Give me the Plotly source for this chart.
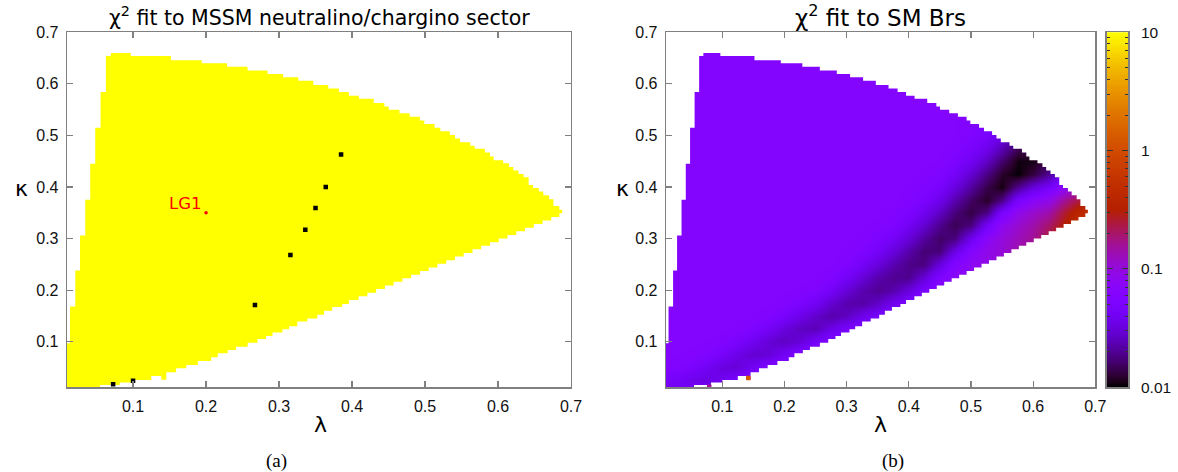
import math
import numpy as np
import plotly.graph_objects as go

# ---------------- data ----------------
# allowed-region boundary (same region in both panels), piecewise constant steps
upper_lam = [0.0095, 0.0136, 0.0209, 0.0273, 0.0345, 0.0413, 0.0482, 0.0555, 0.0628, 0.0696,
             0.0969, 0.1518, 0.1941, 0.2288, 0.2569, 0.2842, 0.3056, 0.3265, 0.3470, 0.3674,
             0.3820, 0.3956, 0.4093, 0.4297, 0.4443, 0.4502, 0.4650, 0.4790, 0.4930, 0.4990,
             0.5130, 0.5210, 0.5340, 0.5410, 0.5480, 0.5620, 0.5680, 0.5820, 0.5890, 0.5940,
             0.6070, 0.6150, 0.6210, 0.6280, 0.6350, 0.6420, 0.6480, 0.6560, 0.6620, 0.6700,
             0.6760, 0.6840]
upper_kap = [0.097, 0.168, 0.238, 0.306, 0.375, 0.445, 0.515, 0.584, 0.654, 0.660,
             0.654, 0.646, 0.640, 0.633, 0.626, 0.619, 0.613, 0.606, 0.598, 0.591,
             0.584, 0.577, 0.571, 0.563, 0.556, 0.550, 0.543, 0.536, 0.529, 0.522,
             0.515, 0.508, 0.501, 0.494, 0.487, 0.480, 0.474, 0.467, 0.459, 0.452,
             0.446, 0.439, 0.432, 0.425, 0.419, 0.404, 0.398, 0.391, 0.384, 0.376,
             0.363, 0.356]
lower_lam = [0.0095, 0.0546, 0.0818, 0.1000, 0.1250, 0.1387, 0.1455, 0.1590, 0.1730, 0.1887,
             0.2070, 0.2160, 0.2296, 0.2410, 0.2570, 0.2705, 0.2820, 0.2910, 0.3046, 0.3138,
             0.3250, 0.3387, 0.3524, 0.3615, 0.3729, 0.3865, 0.3956, 0.4090, 0.4210, 0.4330,
             0.4450, 0.4570, 0.4690, 0.4810, 0.4930, 0.5050, 0.5170, 0.5290, 0.5410, 0.5530,
             0.5650, 0.5770, 0.5890, 0.6010, 0.6130, 0.6250, 0.6370, 0.6490, 0.6610, 0.6730,
             0.6840]
lower_kap = [0.000, 0.016, 0.0206, 0.0258, 0.0335, 0.026, 0.0407, 0.0484, 0.0549, 0.0626,
             0.0698, 0.0775, 0.084, 0.090, 0.098, 0.105, 0.111, 0.118, 0.124, 0.130,
             0.139, 0.145, 0.152, 0.160, 0.167, 0.173, 0.181, 0.188, 0.195, 0.202,
             0.209, 0.216, 0.223, 0.230, 0.237, 0.244, 0.251, 0.258, 0.265, 0.272,
             0.279, 0.286, 0.293, 0.300, 0.307, 0.314, 0.321, 0.328, 0.335, 0.342,
             0.349]
region_end = 0.688

# panel (a): special points with small chi^2 and benchmark LG1
black_lam = [0.0727, 0.100, 0.267, 0.3156, 0.336, 0.350, 0.364, 0.385]
black_kap = [0.0175, 0.0244, 0.171, 0.268, 0.317, 0.359, 0.400, 0.463]
lg1_lam = [0.200]
lg1_kap = [0.350]

# panel (b): log10(chi^2) read on a grid; one list per lambda column, values along kappa
grid_lam = [0.000, 0.025, 0.050, 0.075, 0.100, 0.125, 0.150, 0.175, 0.200, 0.225,
            0.250, 0.275, 0.300, 0.325, 0.350, 0.375, 0.400, 0.425, 0.450, 0.475,
            0.500, 0.525, 0.550, 0.575, 0.600, 0.625, 0.650, 0.675, 0.690]
grid_kap = [0.000, 0.025, 0.050, 0.075, 0.100, 0.125, 0.150, 0.175, 0.200, 0.225,
            0.250, 0.275, 0.300, 0.325, 0.350, 0.375, 0.400, 0.425, 0.450, 0.475,
            0.500, 0.660, 0.675]
log_chi2_by_lam = [
    [-1.40,-1.32,-1.23,-1.20,-1.20,-1.20,-1.20,-1.20,-1.20,-1.20,-1.20,-1.20,-1.20,-1.20,-1.20,-1.20,-1.20,-1.20,-1.20,-1.20,-1.20,-1.20,-1.20],
    [-1.40,-1.37,-1.25,-1.21,-1.20,-1.20,-1.20,-1.20,-1.20,-1.20,-1.20,-1.20,-1.20,-1.20,-1.20,-1.20,-1.20,-1.20,-1.20,-1.20,-1.20,-1.20,-1.20],
    [-1.35,-1.43,-1.30,-1.22,-1.20,-1.20,-1.20,-1.20,-1.20,-1.20,-1.20,-1.20,-1.20,-1.20,-1.20,-1.20,-1.20,-1.20,-1.20,-1.20,-1.20,-1.20,-1.20],
    [-1.27,-1.47,-1.39,-1.26,-1.21,-1.20,-1.20,-1.20,-1.20,-1.20,-1.20,-1.20,-1.20,-1.20,-1.20,-1.20,-1.20,-1.20,-1.20,-1.20,-1.20,-1.20,-1.20],
    [-1.22,-1.40,-1.49,-1.34,-1.24,-1.20,-1.20,-1.20,-1.20,-1.20,-1.20,-1.20,-1.20,-1.20,-1.20,-1.20,-1.20,-1.20,-1.20,-1.20,-1.20,-1.20,-1.20],
    [-1.20,-1.28,-1.51,-1.46,-1.31,-1.22,-1.20,-1.20,-1.20,-1.20,-1.20,-1.20,-1.20,-1.20,-1.20,-1.20,-1.20,-1.20,-1.20,-1.20,-1.20,-1.20,-1.20],
    [-1.20,-1.21,-1.38,-1.54,-1.41,-1.27,-1.21,-1.20,-1.20,-1.20,-1.20,-1.20,-1.20,-1.20,-1.20,-1.20,-1.20,-1.20,-1.20,-1.20,-1.20,-1.20,-1.20],
    [-1.20,-1.20,-1.26,-1.51,-1.52,-1.37,-1.25,-1.21,-1.20,-1.20,-1.20,-1.20,-1.20,-1.20,-1.20,-1.20,-1.20,-1.20,-1.20,-1.20,-1.20,-1.20,-1.20],
    [-1.20,-1.20,-1.22,-1.37,-1.58,-1.49,-1.33,-1.23,-1.20,-1.20,-1.20,-1.20,-1.20,-1.20,-1.20,-1.20,-1.20,-1.20,-1.20,-1.20,-1.20,-1.20,-1.20],
    [-1.20,-1.20,-1.20,-1.26,-1.51,-1.58,-1.45,-1.30,-1.22,-1.20,-1.20,-1.20,-1.20,-1.20,-1.20,-1.20,-1.20,-1.20,-1.20,-1.20,-1.20,-1.20,-1.20],
    [-1.20,-1.20,-1.20,-1.21,-1.35,-1.61,-1.56,-1.39,-1.26,-1.21,-1.20,-1.20,-1.20,-1.20,-1.20,-1.20,-1.20,-1.20,-1.20,-1.20,-1.20,-1.20,-1.20],
    [-1.20,-1.20,-1.20,-1.20,-1.24,-1.46,-1.64,-1.54,-1.37,-1.25,-1.21,-1.20,-1.20,-1.20,-1.20,-1.20,-1.20,-1.20,-1.20,-1.20,-1.20,-1.20,-1.20],
    [-1.20,-1.20,-1.20,-1.20,-1.22,-1.33,-1.58,-1.64,-1.52,-1.37,-1.26,-1.22,-1.20,-1.20,-1.20,-1.20,-1.20,-1.20,-1.20,-1.20,-1.20,-1.20,-1.20],
    [-1.20,-1.20,-1.20,-1.20,-1.20,-1.26,-1.44,-1.66,-1.63,-1.51,-1.36,-1.27,-1.22,-1.20,-1.20,-1.20,-1.20,-1.20,-1.20,-1.20,-1.20,-1.20,-1.20],
    [-1.20,-1.20,-1.20,-1.20,-1.20,-1.22,-1.33,-1.56,-1.70,-1.64,-1.50,-1.36,-1.27,-1.23,-1.20,-1.20,-1.20,-1.20,-1.20,-1.20,-1.20,-1.20,-1.20],
    [-1.20,-1.20,-1.20,-1.20,-1.20,-1.20,-1.25,-1.41,-1.65,-1.71,-1.63,-1.50,-1.37,-1.27,-1.23,-1.20,-1.20,-1.20,-1.20,-1.20,-1.20,-1.20,-1.20],
    [-1.20,-1.20,-1.20,-1.20,-1.20,-1.20,-1.22,-1.29,-1.49,-1.71,-1.73,-1.65,-1.51,-1.39,-1.29,-1.24,-1.22,-1.20,-1.20,-1.20,-1.20,-1.20,-1.20],
    [-1.20,-1.20,-1.20,-1.20,-1.20,-1.20,-1.20,-1.22,-1.31,-1.52,-1.75,-1.77,-1.68,-1.54,-1.41,-1.30,-1.25,-1.22,-1.20,-1.20,-1.20,-1.20,-1.20],
    [-1.20,-1.20,-1.20,-1.20,-1.20,-1.20,-1.20,-1.20,-1.17,-1.26,-1.49,-1.76,-1.80,-1.72,-1.58,-1.44,-1.33,-1.26,-1.22,-1.20,-1.20,-1.20,-1.20],
    [-1.20,-1.20,-1.20,-1.20,-1.20,-1.20,-1.20,-1.20,-1.12,-1.14,-1.22,-1.46,-1.75,-1.84,-1.76,-1.64,-1.49,-1.37,-1.29,-1.24,-1.21,-1.20,-1.20],
    [-1.20,-1.20,-1.20,-1.20,-1.20,-1.20,-1.20,-1.10,-1.10,-1.10,-1.10,-1.19,-1.42,-1.75,-1.87,-1.81,-1.68,-1.54,-1.40,-1.31,-1.25,-1.20,-1.20],
    [-1.20,-1.20,-1.20,-1.20,-1.20,-1.20,-1.20,-1.20,-1.05,-1.05,-1.05,-1.05,-1.14,-1.37,-1.74,-1.92,-1.86,-1.74,-1.58,-1.43,-1.32,-1.20,-1.20],
    [-1.20,-1.20,-1.20,-1.20,-1.20,-1.20,-1.20,-1.20,-1.00,-1.00,-0.98,-0.98,-1.00,-1.08,-1.31,-1.73,-1.97,-1.92,-1.79,-1.62,-1.47,-1.20,-1.20],
    [-1.20,-1.20,-1.20,-1.20,-1.20,-1.20,-1.20,-1.20,-0.85,-0.85,-0.85,-0.85,-0.90,-0.95,-1.06,-1.30,-1.71,-1.99,-1.97,-1.84,-1.67,-1.20,-1.20],
    [-1.20,-1.20,-1.20,-1.20,-1.20,-1.20,-1.20,-1.20,-0.75,-0.75,-0.75,-0.75,-0.80,-0.85,-0.95,-1.14,-1.50,-1.88,-1.96,-1.82,-1.59,-1.20,-1.20],
    [-1.20,-1.20,-1.20,-1.20,-1.20,-1.20,-1.20,-1.20,-0.60,-0.60,-0.60,-0.60,-0.60,-0.70,-0.85,-1.05,-1.34,-1.70,-1.85,-1.75,-1.56,-1.20,-1.20],
    [-1.20,-1.20,-1.20,-1.20,-1.20,-1.20,-1.20,-1.20,-0.40,-0.40,-0.40,-0.40,-0.40,-0.50,-0.60,-0.80,-1.12,-1.40,-1.50,-1.45,-1.35,-1.20,-1.20],
    [-1.20,-1.20,-1.20,-1.20,-1.20,-1.20,-1.20,-1.20,-0.25,-0.25,-0.25,-0.25,-0.25,-0.30,-0.38,-0.60,-0.85,-1.10,-1.30,-1.30,-1.30,-1.20,-1.20],
    [-1.20,-1.20,-1.20,-1.20,-1.20,-1.20,-1.20,-1.20,-0.20,-0.20,-0.20,-0.20,-0.20,-0.20,-0.30,-0.45,-0.70,-1.00,-1.20,-1.20,-1.20,-1.20,-1.20],
]
# isolated cells in panel (b)
cell_lam = [0.142, 0.079]
cell_kap = [0.0295, 0.0125]
cell_log = [0.10, -0.80]

cbar_vals = [0.01, 0.1, 1, 10]
cbar_text = ["0.01", "0.1", "1", "10"]

# ---------------- styling helpers ----------------
def gnu(t):
    r = math.sqrt(t)
    g = t ** 3
    b = max(0.0, math.sin(2 * math.pi * t))
    return "rgb(%d,%d,%d)" % (round(255 * r), round(255 * g), round(255 * b))

cscale = [[i / 40, gnu(i / 40)] for i in range(41)]
ZMIN, ZMAX = -2.0, 1.0

def steps(lams, kaps, end):
    xs, ys = [], []
    for i in range(len(lams)):
        x1 = lams[i + 1] if i + 1 < len(lams) else end
        xs += [lams[i], x1]
        ys += [kaps[i], kaps[i]]
    return xs, ys

ux, uy = steps(upper_lam, upper_kap, region_end)
lx, ly = steps(lower_lam, lower_kap, region_end)
reg_x = ux + lx[::-1] + [ux[0]]
reg_y = uy + ly[::-1] + [uy[0]]
# white mask = big box with the region cut out through a slit
mask_x = [-1, 2, 2, -1, -1] + reg_x + [-1]
mask_y = [-1, -1, 2, 2, -1] + reg_y + [-1]

z_grid = np.array(log_chi2_by_lam).T.tolist()

W, H = 1178, 472
def px(x):
    return x / W
def py(y):
    return 1 - y / H

XD1 = [px(67), px(571)]
XD2 = [px(666), px(1095.3)]
XD3 = [px(1106.7), px(1128.3)]
YD = [py(387.3), py(32.3)]

fig = go.Figure()

# panel (a)
fig.add_trace(go.Scatter(x=reg_x, y=reg_y, mode="lines", fill="toself", fillcolor="#ffff00",
                         line=dict(width=0, color="#ffff00"), hoverinfo="skip",
                         xaxis="x", yaxis="y", showlegend=False))
fig.add_trace(go.Scatter(x=black_lam, y=black_kap, mode="markers",
                         marker=dict(symbol="square", size=4.5, color="black", line=dict(width=0)),
                         xaxis="x", yaxis="y", showlegend=False))
fig.add_trace(go.Scatter(x=lg1_lam, y=lg1_kap, mode="markers",
                         marker=dict(size=3.5, color="#ff0000"),
                         xaxis="x", yaxis="y", showlegend=False))

# panel (b)
fig.add_trace(go.Heatmap(x=grid_lam, y=grid_kap, z=z_grid, zsmooth="best",
                         colorscale=cscale, zmin=ZMIN, zmax=ZMAX, showscale=False,
                         xaxis="x2", yaxis="y2", hoverinfo="skip"))
fig.add_trace(go.Scatter(x=mask_x, y=mask_y, mode="lines", fill="toself", fillcolor="white",
                         line=dict(width=0, color="white"), hoverinfo="skip",
                         xaxis="x2", yaxis="y2", showlegend=False))
fig.add_trace(go.Scatter(x=cell_lam, y=cell_kap, mode="markers",
                         marker=dict(symbol="square", size=4.5, color=cell_log, colorscale=cscale,
                                     cmin=ZMIN, cmax=ZMAX, line=dict(width=0)),
                         xaxis="x2", yaxis="y2", showlegend=False))

# colour bar drawn on its own axis pair
cb_e = np.linspace(ZMIN, ZMAX, 301)
fig.add_trace(go.Heatmap(x=[0.5], y=cb_e, z=[[v] for v in cb_e], colorscale=cscale,
                         zmin=ZMIN, zmax=ZMAX, showscale=False, xaxis="x3", yaxis="y3",
                         hoverinfo="skip"))

AX = "#808080"
tickfont = dict(family="Liberation Sans", size=16, color="#111111")
ticks = [0.1, 0.2, 0.3, 0.4, 0.5, 0.6, 0.7]
def xax(dom, anchor):
    return dict(domain=dom, anchor=anchor, range=[0.0095, 0.7], tickvals=ticks,
                ticktext=["%.1f" % t for t in ticks], ticks="inside", ticklen=6, tickwidth=1.2,
                tickcolor=AX, showline=True, linecolor=AX, linewidth=1.3, mirror="ticks",
                showgrid=False, zeroline=False, tickfont=tickfont, ticklabelstandoff=4,
                automargin=False)
def yax(anchor):
    return dict(domain=YD, anchor=anchor, range=[0.0115, 0.7], tickvals=ticks,
                ticktext=["%.1f" % t for t in ticks], ticks="inside", ticklen=6, tickwidth=1.2,
                tickcolor=AX, showline=True, linecolor=AX, linewidth=1.3, mirror="ticks",
                showgrid=False, zeroline=False, tickfont=tickfont, ticklabelstandoff=4,
                automargin=False)

minor_vals = []
for d in [0.01, 0.1, 1]:
    for k in range(2, 10):
        minor_vals.append(math.log10(k * d))

fig.update_layout(
    template="none",
    width=W, height=H, margin=dict(l=0, r=0, t=0, b=0, pad=0), autosize=False,
    paper_bgcolor="white", plot_bgcolor="white",
    xaxis=xax(XD1, "y"), yaxis=yax("x"),
    xaxis2=xax(XD2, "y2"), yaxis2=yax("x2"),
    xaxis3=dict(domain=XD3, anchor="y3", range=[0, 1], showticklabels=False, ticks="",
                showline=True, linecolor=AX, linewidth=1.3, mirror=True, showgrid=False,
                zeroline=False, automargin=False),
    yaxis3=dict(domain=YD, anchor="x3", side="right", range=[ZMIN, ZMAX],
                tickmode="array", tickvals=[math.log10(v) for v in cbar_vals],
                showticklabels=False,
                ticks="inside", ticklen=6, tickwidth=1, tickcolor="#333333",
                showline=True, linecolor=AX, linewidth=1.3, mirror="ticks",
                showgrid=False, zeroline=False, automargin=False,
                minor=dict(tickvals=minor_vals, ticks="inside", ticklen=3, tickcolor="#333333",
                           showgrid=False)),
)

ann = []
ann.append(dict(text="χ<sup>2</sup> fit to MSSM neutralino/chargino sector", x=px(319), y=py(16),
                xref="paper", yref="paper", showarrow=False,
                font=dict(family="DejaVu Sans", size=20.5, color="black"),
                xanchor="center", yanchor="middle"))
ann.append(dict(text="χ<sup>2</sup> fit to SM Brs", x=px(880.6), y=py(16),
                xref="paper", yref="paper", showarrow=False,
                font=dict(family="DejaVu Sans", size=23, color="black"),
                xanchor="center", yanchor="middle"))
ann.append(dict(text="LG1", x=lg1_lam[0], y=lg1_kap[0], xref="x", yref="y", showarrow=False,
                font=dict(family="DejaVu Sans", size=16.5, color="#ff0000"),
                xanchor="right", yanchor="bottom", xshift=-3, yshift=-2))
for v, t in zip(cbar_vals, cbar_text):
    ann.append(dict(text=t, x=px(1139), y=math.log10(v), xref="paper", yref="y3", showarrow=False,
                    font=dict(family="Liberation Sans", size=15.5, color="#111111"),
                    xanchor="left", yanchor="middle"))
lab_font = dict(family="DejaVu Sans", size=22, color="black")
for xx in [320, 880]:
    ann.append(dict(text="λ", x=px(xx), y=py(424), xref="paper", yref="paper", showarrow=False,
                    font=lab_font, xanchor="center", yanchor="middle"))
for xx in [21, 622]:
    ann.append(dict(text="κ", x=px(xx), y=py(188), xref="paper", yref="paper", showarrow=False,
                    font=lab_font, xanchor="center", yanchor="middle"))
cap_font = dict(family="Liberation Serif", size=19, color="black")
ann.append(dict(text="(a)", x=px(276), y=py(461), xref="paper", yref="paper", showarrow=False,
                font=cap_font, xanchor="center", yanchor="middle"))
ann.append(dict(text="(b)", x=px(893), y=py(461), xref="paper", yref="paper", showarrow=False,
                font=cap_font, xanchor="center", yanchor="middle"))
fig.update_layout(annotations=ann)

fig.write_html("out.html",
               config={"displayModeBar": False, "staticPlot": True},
               post_script="document.body.style.margin='0px';document.body.style.overflow='hidden';")
